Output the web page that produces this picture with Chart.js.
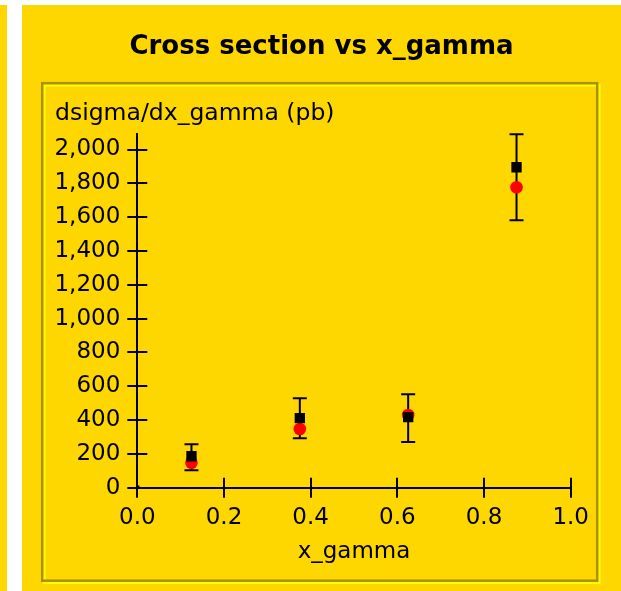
<!DOCTYPE html>
<html>
<head>
<meta charset="utf-8">
<script src="https://cdn.jsdelivr.net/npm/chart.js@4.4.1/dist/chart.umd.min.js"></script>
<style>
  html, body { margin: 0; padding: 0; background: #FFD700; overflow: hidden; }
  #plot { display: block; }
</style>
</head>
<body>
<canvas id="plot" width="621" height="591"></canvas>
<script>
// Measured cross section in bins of x_gamma, with asymmetric error bars,
// and the prediction drawn as red markers.
const xGamma      = [0.125, 0.375, 0.625, 0.875];
const dataValues  = [186, 411, 417, 1895];
const errUpper    = [257, 529, 553, 2090];
const errLower    = [103, 292, 270, 1582];
const predValues  = [148, 347, 430, 1777];
const originPoint = [{ x: 0, y: 0 }];

const xTicks = [0.0, 0.2, 0.4, 0.6, 0.8, 1.0];
const yTicks = [0, 200, 400, 600, 800, 1000, 1200, 1400, 1600, 1800, 2000];

const titleText  = 'Cross section vs x_gamma';
const yTitleText = 'dsigma/dx_gamma (pb)';
const xTitleText = 'x_gamma';

const PANEL = '#FFD700';
const SHADOW = 'rgb(170,143,0)';
const HIGHLIGHT = 'rgb(255,255,3)';
const FONT = '"DejaVu Sans", sans-serif';

const toPoints = (xs, ys) => xs.map((x, i) => ({ x, y: ys[i] }));

// Panel background, white gutters and etched frame round the plot.
const framePlugin = {
  id: 'frame',
  beforeDraw(chart) {
    const ctx = chart.ctx;
    ctx.save();
    ctx.fillStyle = PANEL;
    ctx.fillRect(0, 0, chart.width, chart.height);
    ctx.fillStyle = '#FFFFFF';
    ctx.fillRect(0, 0, chart.width, 5);
    ctx.fillRect(7, 0, 15, chart.height);

    ctx.lineWidth = 2.5;
    // highlight: inside on top/left, outside on bottom/right
    ctx.strokeStyle = HIGHLIGHT;
    ctx.strokeRect(44.3, 85.3, 555, 497.5);
    ctx.strokeStyle = SHADOW;
    ctx.strokeRect(42.2, 83.2, 555, 497.5);

    ctx.fillStyle = '#000';
    ctx.font = 'bold 26px ' + FONT;
    ctx.textAlign = 'center';
    ctx.textBaseline = 'alphabetic';
    ctx.fillText(titleText, 321.5, 54);

    ctx.font = '23.5px ' + FONT;
    ctx.textAlign = 'left';
    ctx.fillText(yTitleText, 55, 120);
    ctx.restore();
  },
  // Error bars under the markers
  beforeDatasetsDraw(chart) {
    const ctx = chart.ctx;
    const xs = chart.scales.x, ys = chart.scales.y;
    ctx.save();
    ctx.strokeStyle = '#000';
    ctx.lineWidth = 2;
    const cap = 7;
    xGamma.forEach((xv, i) => {
      const px = xs.getPixelForValue(xv);
      const top = ys.getPixelForValue(errUpper[i]);
      const bot = ys.getPixelForValue(errLower[i]);
      ctx.beginPath();
      ctx.moveTo(px, top); ctx.lineTo(px, bot);
      ctx.moveTo(px - cap, top); ctx.lineTo(px + cap, top);
      ctx.moveTo(px - cap, bot); ctx.lineTo(px + cap, bot);
      ctx.stroke();
    });
    ctx.restore();
  },
  // Tick marks also reach into the plot area
  afterDraw(chart) {
    const ctx = chart.ctx;
    const xs = chart.scales.x, ys = chart.scales.y;
    const area = chart.chartArea;
    ctx.save();
    ctx.strokeStyle = '#000';
    ctx.lineWidth = 2;
    ctx.beginPath();
    xs.ticks.forEach(t => {
      const px = Math.round(xs.getPixelForValue(t.value));
      ctx.moveTo(px, area.bottom); ctx.lineTo(px, area.bottom - 10);
    });
    ys.ticks.forEach(t => {
      const py = Math.round(ys.getPixelForValue(t.value));
      ctx.moveTo(area.left, py); ctx.lineTo(area.left + 10, py);
    });
    ctx.stroke();
    ctx.restore();
  }
};

const axisCommon = {
  grid: { display: true, drawOnChartArea: false, drawTicks: true, tickLength: 10, color: '#000', tickColor: '#000', tickWidth: 2, lineWidth: 2 },
  border: { display: true, color: '#000', width: 2 },
};

new Chart(document.getElementById('plot'), {
  type: 'scatter',
  data: {
    datasets: [
      {
        label: 'origin',
        data: originPoint,
        pointStyle: 'rect',
        pointRadius: 3,
        backgroundColor: '#000',
        borderWidth: 0
      },
      {
        label: 'data',
        data: toPoints(xGamma, dataValues),
        pointStyle: 'rect',
        pointRadius: 7.3,
        backgroundColor: '#000',
        borderWidth: 0
      },
      {
        label: 'prediction',
        data: toPoints(xGamma, predValues),
        pointStyle: 'circle',
        pointRadius: 6.3,
        backgroundColor: '#FF0000',
        borderWidth: 0
      }
    ]
  },
  options: {
    responsive: false,
    animation: false,
    devicePixelRatio: 1,
    layout: { padding: { top: 134.3, right: 50.3, left: 0, bottom: 0 } },
    plugins: { legend: { display: false }, tooltip: { enabled: false }, title: { display: false } },
    scales: {
      x: {
        type: 'linear',
        min: xTicks[0],
        max: xTicks[xTicks.length - 1],
        ...axisCommon,
        afterBuildTicks(scale) { scale.ticks = xTicks.map(v => ({ value: v })); },
        afterFit(scale) { scale.height = 103.3; },
        ticks: {
          color: '#000',
          padding: 7,
          maxRotation: 0,
          font: { family: FONT, size: 23 },
          callback: v => Number(v).toFixed(1)
        },
        title: {
          display: true,
          text: xTitleText,
          color: '#000',
          font: { family: FONT, size: 23 },
          padding: { top: 0, bottom: 25 }
        }
      },
      y: {
        type: 'linear',
        min: 0,
        max: Math.max(...errUpper),
        ...axisCommon,
        afterBuildTicks(scale) { scale.ticks = yTicks.map(v => ({ value: v })); },
        afterFit(scale) { scale.width = 137.3; },
        ticks: {
          color: '#000',
          padding: 7,
          font: { family: FONT, size: 23 },
          callback: v => Number(v).toLocaleString('en-US')
        }
      }
    }
  },
  plugins: [framePlugin]
});
</script>
</body>
</html>
